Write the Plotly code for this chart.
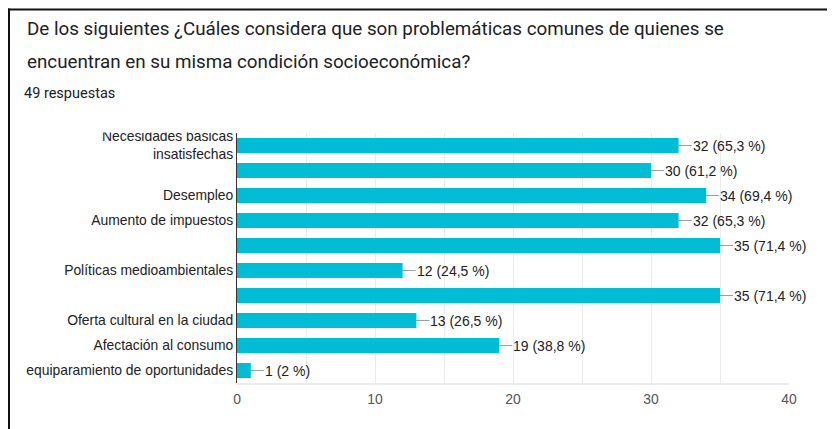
import plotly.graph_objects as go

# ---- data ----
categories = [
    "Necesidades básicas<br>insatisfechas",
    "",
    "Desempleo",
    "Aumento de impuestos",
    "",
    "Políticas medioambientales",
    "",
    "Oferta cultural en la ciudad",
    "Afectación al consumo",
    "equiparamiento de oportunidades",
]
counts = [32, 30, 34, 32, 35, 12, 35, 13, 19, 1]
percents = ["65,3", "61,2", "69,4", "65,3", "71,4", "24,5", "71,4", "26,5", "38,8", "2"]
x_ticks = [0, 10, 20, 30, 40]
title_line1 = "De los siguientes ¿Cuáles considera que son problemáticas comunes de quienes se"
title_line2 = "encuentran en su misma condición socioeconómica?"
subtitle = "49 respuestas"

# ---- geometry (page pixels; the page body has an 8px margin) ----
OFF = 8
PAGE_W, PAGE_H = 835, 429
W, H = PAGE_W - OFF, PAGE_H - OFF
PL, PR, PT, PB = 237, 789, 133, 383          # plot area in page pixels
L, T = PL - OFF, PT - OFF
R, B = PAGE_W - PR, PAGE_H - PB
PW, PH = PR - PL, PB - PT


def px(x):
    return (x - PL) / PW


def py(y):
    return (PB - y) / PH


positions = list(range(len(categories)))
BAR = "#00BCD4"

fig = go.Figure()
fig.add_trace(go.Bar(
    x=counts, y=positions, orientation="h",
    marker=dict(color=BAR, line=dict(width=0)),
    width=0.6, hoverinfo="skip",
))

annotations = []
for i, (c, p) in enumerate(zip(counts, percents)):
    annotations.append(dict(
        x=c, y=i, xref="x", yref="y",
        text=f"{c} ({p} %)", showarrow=True, arrowhead=0, arrowwidth=1,
        arrowcolor="#9e9e9e", ax=13, ay=0, xanchor="left", yanchor="middle",
        standoff=0, startstandoff=0, borderpad=0,
        font=dict(family="Liberation Sans, Arial", size=14, color="#222222"),
    ))

annotations += [
    dict(x=px(25), y=py(29), xref="paper", yref="paper", text=title_line1,
         showarrow=False, xanchor="left", yanchor="middle",
         font=dict(family="Roboto", size=18.8, color="#202124")),
    dict(x=px(25), y=py(62), xref="paper", yref="paper", text=title_line2,
         showarrow=False, xanchor="left", yanchor="middle",
         font=dict(family="Roboto", size=18.8, color="#202124")),
    dict(x=px(22), y=py(93), xref="paper", yref="paper", text=subtitle,
         showarrow=False, xanchor="left", yanchor="middle",
         font=dict(family="Roboto", size=14.5, color="#202124")),
]

shapes = [
    # white mask clipping the top of the first (overflowing) category label
    dict(type="rect", xref="paper", yref="paper", x0=px(12), x1=px(236),
         y0=py(100), y1=py(132.5), fillcolor="white", line=dict(width=0),
         layer="above"),
    # frame lines
    dict(type="line", xref="paper", yref="paper", x0=px(8), x1=px(PAGE_W + 5),
         y0=py(9.5), y1=py(9.5), line=dict(color="#111111", width=2)),
    dict(type="line", xref="paper", yref="paper", x0=px(9), x1=px(9),
         y0=py(8.5), y1=py(PAGE_H + 5), line=dict(color="#111111", width=2)),
]

fig.update_layout(
    width=W, height=H,
    margin=dict(l=L, r=R, t=T, b=B, pad=0),
    paper_bgcolor="white", plot_bgcolor="white",
    showlegend=False,
    annotations=annotations,
    shapes=shapes,
    bargap=0.4,
)
fig.update_xaxes(
    range=[0, 40], tickvals=x_ticks, ticktext=[str(t) for t in x_ticks],
    showgrid=True, gridcolor="#ebebeb", gridwidth=1,
    minor=dict(dtick=5, tick0=0, showgrid=True, gridcolor="#ebebeb", gridwidth=1),
    zeroline=False, showline=True, linecolor="#ebebeb", linewidth=2,
    ticks="", tickfont=dict(family="Liberation Sans, Arial", size=13.9, color="#555555"),
    ticklabelstandoff=2, fixedrange=True,
)
fig.update_yaxes(
    range=[len(categories) - 0.5, -0.5], tickvals=positions, ticktext=categories,
    showgrid=False, zeroline=False, showline=True, linecolor="#333333", linewidth=1,
    ticks="", tickfont=dict(family="Liberation Sans, Arial", size=13.9, color="#222222"),
    ticklabelstandoff=0, fixedrange=True,
)

fig.write_html("out.html", config={"displayModeBar": False})
